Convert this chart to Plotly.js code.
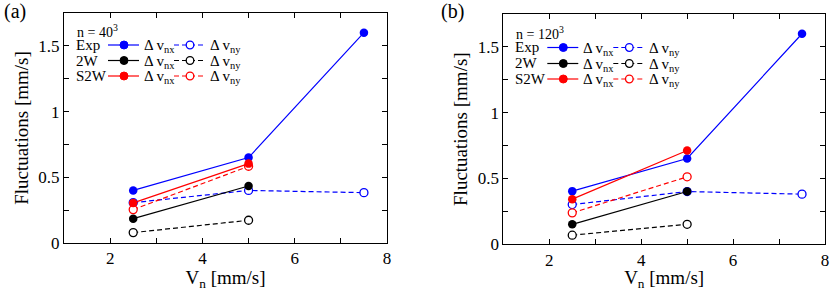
<!DOCTYPE html>
<html><head><meta charset="utf-8">
<script src="https://cdn.plot.ly/plotly-3.0.1.min.js"></script>
<style>body{margin:0;padding:0;background:#fff}#chart{width:830px;height:291px}</style>
</head><body><div id="chart"></div>
<script>
// ---- data ----
const vn = [2.5, 5, 7.5];
const vnSim = [2.5, 5];
// panel (a): n = 40^3
const expNxA = [0.40, 0.65, 1.60];
const expNyA = [0.307, 0.40, 0.383];
const w2NxA = [0.185, 0.434];
const w2NyA = [0.079, 0.173];
const s2wNxA = [0.305, 0.604];
const s2wNyA = [0.254, 0.584];
// panel (b): n = 120^3
const expNxB = [0.404, 0.652, 1.60];
const expNyB = [0.302, 0.401, 0.381];
const w2NxB = [0.152, 0.401];
const w2NyB = [0.069, 0.152];
const s2wNxB = [0.343, 0.713];
const s2wNyB = [0.239, 0.513];
const panelLabels = ['(a)', '(b)'];
const gridLabels = ['n = 40<sup>3</sup>', 'n = 120<sup>3</sup>'];
const seriesNames = ['Exp', '2W', 'S2W'];
const seriesColors = ['#0000ff', '#000000', '#ff0000'];
const nxLabel = 'Δ v<sub>nx</sub>';
const nyLabel = 'Δ v<sub>ny</sub>';

const FONT = 'Liberation Serif';
const DASH = '5px,3px';

function tr(x, y, color, filled, xa, ya) {
  return {
    x: x, y: y, xaxis: xa, yaxis: ya, type: 'scatter', mode: 'lines+markers',
    showlegend: false, hoverinfo: 'skip',
    line: {color: color, width: 1.2, dash: filled ? 'solid' : DASH},
    marker: filled ? {size: 8.5, color: color, symbol: 'circle', line: {width: 0}}
                   : {size: 8, color: '#ffffff', symbol: 'circle', line: {color: color, width: 1.3}}
  };
}
const panels = [
  [expNxA, expNyA, w2NxA, w2NyA, s2wNxA, s2wNyA],
  [expNxB, expNyB, w2NxB, w2NyB, s2wNxB, s2wNyB]
];
const data = [];
panels.forEach((p, i) => {
  const xa = i === 0 ? 'x' : 'x2', ya = i === 0 ? 'y' : 'y2';
  data.push(tr(vn, p[1], seriesColors[0], false, xa, ya));
  data.push(tr(vn, p[0], seriesColors[0], true, xa, ya));
  data.push(tr(vnSim, p[3], seriesColors[1], false, xa, ya));
  data.push(tr(vnSim, p[2], seriesColors[1], true, xa, ya));
  data.push(tr(vnSim, p[5], seriesColors[2], false, xa, ya));
  data.push(tr(vnSim, p[4], seriesColors[2], true, xa, ya));
});

const W = 830, H = 291, MT = 13, MB = 46;
const PH = H - MT - MB;
const px = v => v / W;
const py = v => (H - MB - v) / PH;

function xAxis(dom) {
  return {
    domain: dom, range: [1, 8], dtick: 2, tick0: 0,
    ticks: 'inside', ticklen: 5, tickwidth: 1, tickcolor: '#000',
    minor: {dtick: 1, ticks: 'inside', ticklen: 5, tickwidth: 1, tickcolor: '#000'},
    showline: true, linecolor: '#000', linewidth: 1, mirror: 'ticks',
    showgrid: false, zeroline: false,
    tickfont: {family: FONT, size: 17, color: '#000'},
    title: {text: 'V<sub>n</sub> [mm/s]', font: {family: FONT, size: 19, color: '#000'}, standoff: 2}
  };
}
function yAxis(dom, anchor) {
  return {
    domain: dom, range: [0, 1.75], dtick: 0.5, anchor: anchor,
    ticks: 'inside', ticklen: 5, tickwidth: 1, tickcolor: '#000',
    minor: {dtick: 0.25, ticks: 'inside', ticklen: 5, tickwidth: 1, tickcolor: '#000'},
    showline: true, linecolor: '#000', linewidth: 1, mirror: 'ticks',
    showgrid: false, zeroline: false,
    tickfont: {family: FONT, size: 17, color: '#000'},
    title: {text: 'Fluctuations [mm/s]', font: {family: FONT, size: 19, color: '#000'}, standoff: 4}
  };
}

const annotations = [], shapes = [];
const axisLeft = [64, 503.3];
const rowYs = [[45, 60.5, 76], [47.5, 63.5, 79]];
const nYs = [31, 32.5];
const panelX = [15, 452];
axisLeft.forEach((L, i) => {
  annotations.push({xref: 'paper', yref: 'paper', x: px(panelX[i]), y: py(12), text: panelLabels[i],
    showarrow: false, xanchor: 'center', yanchor: 'middle', font: {family: FONT, size: 20, color: '#000'}});
  annotations.push({xref: 'paper', yref: 'paper', x: px(L + 11), y: py(nYs[i]), text: gridLabels[i],
    showarrow: false, xanchor: 'left', yanchor: 'middle', font: {family: FONT, size: 14, color: '#000'}});
  seriesNames.forEach((nm, k) => {
    const yy = rowYs[i][k], c = seriesColors[k];
    annotations.push({xref: 'paper', yref: 'paper', x: px(L + 10), y: py(yy), text: nm,
      showarrow: false, xanchor: 'left', yanchor: 'middle', font: {family: FONT, size: 15, color: '#000'}});
    shapes.push({type: 'line', xref: 'paper', yref: 'paper', x0: px(L + 44), x1: px(L + 75), y0: py(yy), y1: py(yy),
      line: {color: c, width: 1.2}});
    shapes.push({type: 'circle', xref: 'paper', yref: 'paper', x0: px(L + 60 - 4), x1: px(L + 60 + 4),
      y0: py(yy + 4), y1: py(yy - 4), fillcolor: c, line: {color: c, width: 1}});
    annotations.push({xref: 'paper', yref: 'paper', x: px(L + 78), y: py(yy + 1), text: nxLabel,
      showarrow: false, xanchor: 'left', yanchor: 'middle', font: {family: FONT, size: 15, color: '#000'}});
    shapes.push({type: 'line', xref: 'paper', yref: 'paper', x0: px(L + 110), x1: px(L + 142), y0: py(yy), y1: py(yy),
      line: {color: c, width: 1.2, dash: DASH}});
    shapes.push({type: 'circle', xref: 'paper', yref: 'paper', x0: px(L + 126 - 3.8), x1: px(L + 126 + 3.8),
      y0: py(yy + 3.8), y1: py(yy - 3.8), fillcolor: '#fff', line: {color: c, width: 1.3}});
    annotations.push({xref: 'paper', yref: 'paper', x: px(L + 144), y: py(yy + 1), text: nyLabel,
      showarrow: false, xanchor: 'left', yanchor: 'middle', font: {family: FONT, size: 15, color: '#000'}});
  });
});

const layout = {
  width: W, height: H,
  margin: {l: 0, r: 0, t: MT, b: MB, pad: 0},
  paper_bgcolor: '#fff', plot_bgcolor: '#fff',
  showlegend: false,
  font: {family: FONT, color: '#000'},
  xaxis: xAxis([64 / W, 387 / W]),
  yaxis: yAxis([2 / PH, 1], 'x'),
  xaxis2: Object.assign(xAxis([503.3 / W, 825 / W]), {anchor: 'y2'}),
  yaxis2: yAxis([0.7 / PH, 1 - 1 / PH], 'x2'),
  annotations: annotations,
  shapes: shapes
};
layout.xaxis.anchor = 'y';
Plotly.newPlot('chart', data, layout, {staticPlot: true, displayModeBar: false});
</script></body></html>
